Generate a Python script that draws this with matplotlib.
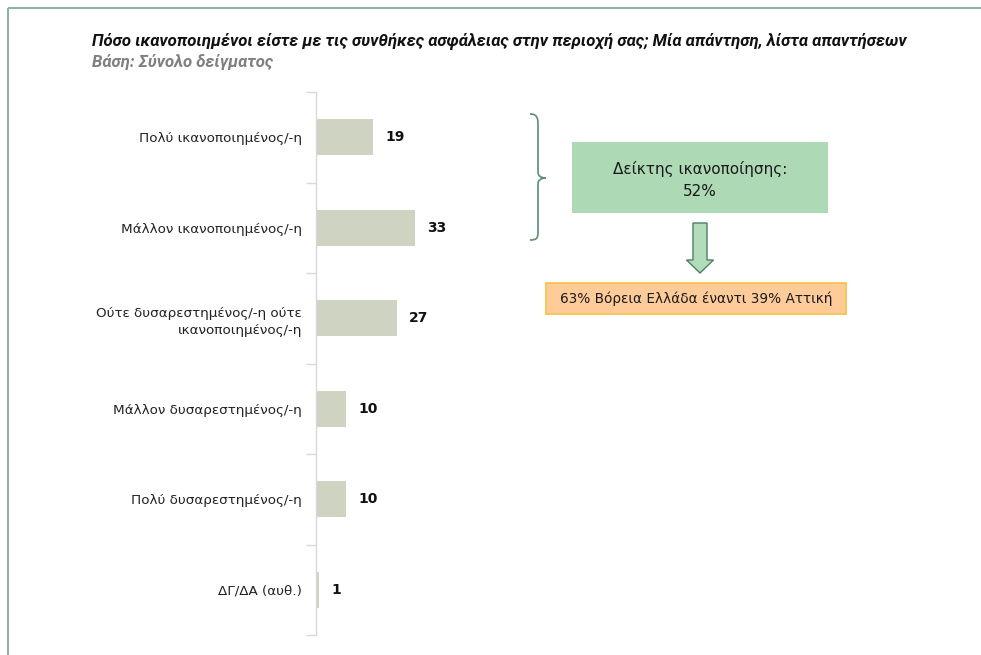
import matplotlib
matplotlib.use("Agg")
import matplotlib.pyplot as plt
from matplotlib.patches import Rectangle, FancyArrow, PathPatch
from matplotlib.path import Path

# --- data ---
categories = [
    "Πολύ ικανοποιημένος/-η",
    "Μάλλον ικανοποιημένος/-η",
    "Ούτε δυσαρεστημένος/-η ούτε\nικανοποιημένος/-η",
    "Μάλλον δυσαρεστημένος/-η",
    "Πολύ δυσαρεστημένος/-η",
    "ΔΓ/ΔΑ (αυθ.)",
]
values = [19, 33, 27, 10, 10, 1]

title = "Πόσο ικανοποιημένοι είστε με τις συνθήκες ασφάλειας στην περιοχή σας; Μία απάντηση, λίστα απαντήσεων"
subtitle = "Βάση: Σύνολο δείγματος"
index_text = "Δείκτης ικανοποίησης:\n52%"
note_text = "63% Βόρεια Ελλάδα έναντι 39% Αττική"

W, H = 981, 655
fig = plt.figure(figsize=(W / 100, H / 100), dpi=100, facecolor="white")

# bar chart axes (pixel layout -> figure fractions)
ax = fig.add_axes([316 / W, 1 - 635 / H, 400 / W, (635 - 92) / H])
ypos = list(range(len(categories)))
ax.barh(ypos, values, height=0.4, color="#cfd3c1", zorder=2)
ax.set_ylim(len(categories) - 0.5, -0.5)
ax.set_xlim(0, 400 / 3.0)

for y, v in zip(ypos, values):
    ax.text(v + 4, y, str(v), ha="left", va="center", fontsize=10,
            fontweight="bold", color="#111111", family="DejaVu Sans")

ax.set_yticks(ypos)
ax.set_yticklabels(categories, fontsize=9.7, color="#222222", ha="right",
                   linespacing=1.4)
ax.tick_params(axis="y", which="major", length=0, pad=10)
ax.set_yticks([i - 0.5 for i in range(len(categories) + 1)], minor=True)
ax.tick_params(axis="y", which="minor", length=7, color="#d9d9d9", width=1)
ax.set_xticks([])
for s in ("top", "right", "bottom"):
    ax.spines[s].set_visible(False)
ax.spines["left"].set_color("#d9d9d9")
ax.spines["left"].set_linewidth(1)

# overlay in pixel coordinates for annotations
ov = fig.add_axes([0, 0, 1, 1], facecolor="none")
ov.set_xlim(0, W)
ov.set_ylim(H, 0)
ov.axis("off")

frame = "#8fb3a0"
ov.plot([8, W], [8, 8], color=frame, lw=1.5, solid_capstyle="butt")
ov.plot([8, 8], [8, H], color=frame, lw=1.5, solid_capstyle="butt")

head_font = ["Roboto", "DejaVu Sans"]
t_title = ov.text(92, 42, title, ha="left", va="center", fontsize=11.5,
                  fontweight="bold", style="italic", color="#111111",
                  family=head_font)
t_sub = ov.text(92, 62, subtitle, ha="left", va="center", fontsize=11.5,
                fontweight="bold", style="italic", color="#7f7f7f",
                family=head_font)
# shrink/grow the title so it ends where the reference does (~x=910)
r = fig.canvas.get_renderer()
wpx = t_title.get_window_extent(renderer=r).width
fs = 11.5 * 818 / wpx
t_title.set_fontsize(fs)
t_sub.set_fontsize(fs)

# curly bracket
verts = [(530, 114), (537, 114), (538, 118), (538, 124),
         (538, 172), (538, 176), (541, 178), (546, 178),
         (541, 178), (538, 180), (538, 184),
         (538, 232), (538, 238), (537, 240), (530, 240)]
codes = [Path.MOVETO, Path.CURVE4, Path.CURVE4, Path.CURVE4,
         Path.LINETO, Path.CURVE4, Path.CURVE4, Path.CURVE4,
         Path.CURVE4, Path.CURVE4, Path.CURVE4,
         Path.LINETO, Path.CURVE4, Path.CURVE4, Path.CURVE4]
ov.add_patch(PathPatch(Path(verts, codes), fill=False, edgecolor="#5e8c74", lw=1.2))

# index box
ov.add_patch(Rectangle((572, 142), 256, 71, facecolor="#aed9b5", edgecolor="none"))
ov.text(700, 180, index_text, ha="center", va="center", fontsize=11,
        color="#1a1a1a", linespacing=1.55)

# arrow
ov.add_patch(FancyArrow(700, 223, 0, 50, width=14, head_width=27, head_length=13,
                        length_includes_head=True, facecolor="#b3dcbb",
                        edgecolor="#4f7f62", lw=1))

# note box
ov.add_patch(Rectangle((546, 283), 300, 31, facecolor="#ffcc99",
                       edgecolor="#f7c041", lw=1.2))
ov.text(696, 299, note_text, ha="center", va="center", fontsize=9.8,
        color="#1a1a1a")

fig.savefig("out.png", dpi=100, facecolor="white")
